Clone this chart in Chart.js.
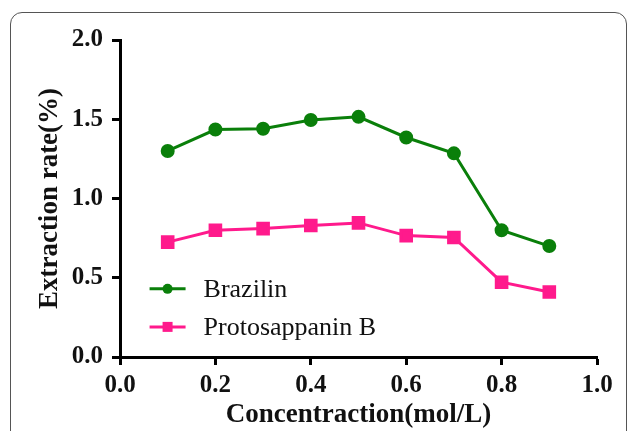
<!DOCTYPE html>
<html>
<head>
<meta charset="utf-8">
<script src="https://cdn.jsdelivr.net/npm/chart.js@4"></script>
<style>
html,body{margin:0;padding:0;background:#fff;overflow:hidden;}
#wrap{position:relative;width:630px;height:431px;}
#frame{position:absolute;left:10px;top:12px;width:617px;height:460px;border:1px solid #555;border-radius:12px;box-sizing:border-box;}
canvas{position:absolute;left:0;top:0;}
</style>
</head>
<body>
<div id="wrap">
<div id="frame"></div>
<canvas id="chart" width="630" height="431"></canvas>
</div>
<script>
// data
const concentration = [0.1, 0.2, 0.3, 0.4, 0.5, 0.6, 0.7, 0.8, 0.9];
const brazilin = [1.30, 1.435, 1.44, 1.495, 1.515, 1.385, 1.285, 0.80, 0.70];
const protosappanin = [0.725, 0.80, 0.81, 0.83, 0.846, 0.766, 0.754, 0.472, 0.41];
const seriesNames = ['Brazilin', 'Protosappanin B'];
const xTicks = [0, 0.2, 0.4, 0.6, 0.8, 1.0];
const yTicks = [0, 0.5, 1.0, 1.5, 2.0];

const green = '#0a7f0a';
const pink = '#ff1a8c';
const serif = "'Liberation Serif', 'Times New Roman', serif";

function toPoints(ys){
    return concentration.map((x,i)=>({x:x, y:ys[i]}));
}

// legend drawn inside plot area, bottom-left
const innerLegend = {
    id:'innerLegend',
    afterDraw(chart){
        const ctx = chart.ctx;
        const xs = chart.scales.x, ys = chart.scales.y;
        const rows = [ys.getPixelForValue(0.43), ys.getPixelForValue(0.19)];
        const x0 = xs.getPixelForValue(0.062);
        ctx.save();
        chart.data.datasets.forEach((ds,i)=>{
            const y = rows[i];
            ctx.strokeStyle = ds.borderColor;
            ctx.lineWidth = 3;
            ctx.beginPath();
            ctx.moveTo(x0, y);
            ctx.lineTo(x0 + 36, y);
            ctx.stroke();
            ctx.fillStyle = ds.backgroundColor;
            if(ds.pointStyle === 'rect'){
                ctx.fillRect(x0 + 13, y - 5, 10, 10);
            } else {
                ctx.beginPath();
                ctx.arc(x0 + 18, y, 5, 0, Math.PI*2);
                ctx.fill();
            }
            ctx.fillStyle = '#111';
            ctx.font = '26px ' + serif;
            ctx.textBaseline = 'middle';
            ctx.textAlign = 'left';
            ctx.fillText(ds.label, x0 + 54, y + 1);
        });
        ctx.restore();
    }
};

new Chart(document.getElementById('chart').getContext('2d'), {
    type:'line',
    data:{
        datasets:[
            {label:seriesNames[0], data:toPoints(brazilin), borderColor:green, backgroundColor:green, borderWidth:3, pointStyle:'circle', pointRadius:5.5, pointHoverRadius:5.5, tension:0},
            {label:seriesNames[1], data:toPoints(protosappanin), borderColor:pink, backgroundColor:pink, borderWidth:3, pointStyle:'rect', pointRadius:7.5, pointHoverRadius:7.5, tension:0}
        ]
    },
    options:{
        responsive:false,
        animation:false,
        layout:{padding:{left:0, right:33, top:40, bottom:0}},
        plugins:{legend:{display:false}, tooltip:{enabled:false}},
        scales:{
            x:{
                type:'linear', min:0, max:1,
                afterBuildTicks(s){ s.ticks = xTicks.map(v=>({value:v})); },
                afterFit(s){ s.height = 74; },
                grid:{display:true, drawOnChartArea:false, drawTicks:true, tickLength:8, tickWidth:3, tickColor:'#000'},
                border:{display:true, color:'#000', width:3},
                ticks:{color:'#111', padding:6, maxRotation:0, font:{family:serif, size:25, weight:'bold'}, callback:v=>v.toFixed(1)},
                title:{display:true, text:'Concentraction(mol/L)', color:'#111', padding:{top:0, bottom:0}, font:{family:serif, size:27, weight:'bold'}}
            },
            y:{
                type:'linear', min:0, max:2,
                afterBuildTicks(s){ s.ticks = yTicks.map(v=>({value:v})); },
                afterFit(s){ s.width = 120; },
                grid:{display:true, drawOnChartArea:false, drawTicks:true, tickLength:8, tickWidth:3, tickColor:'#000'},
                border:{display:true, color:'#000', width:3},
                ticks:{color:'#111', padding:9, font:{family:serif, size:25, weight:'bold'}, callback:v=>v.toFixed(1)},
                title:{display:true, text:'Extraction rate(%)', color:'#111', padding:{top:34, bottom:0}, font:{family:serif, size:27, weight:'bold'}}
            }
        }
    },
    plugins:[innerLegend]
});
</script>
</body>
</html>
